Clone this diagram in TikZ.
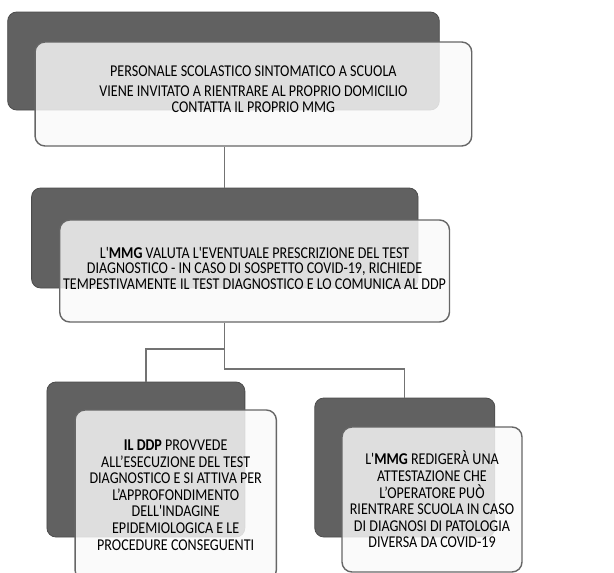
\documentclass[tikz,border=0pt]{standalone}
\usepackage{fontspec}
\setmainfont{Carlito}[Ligatures=TeXOff, FakeStretch=0.853]
\begin{document}
\begin{tikzpicture}[x=1pt,y=-1pt,
  darkbox/.style={draw=black!70, line width=0.8pt, fill=black!62, rounded corners=9pt, inner sep=0pt},
  frontbox/.style={draw=black!60, line width=1.4pt, fill=black!2, fill opacity=0.82, text opacity=1,
     rounded corners=10pt, inner sep=0pt, align=center, text=black},
  conn/.style={draw=black!55, line width=1.3pt},
  bigtext/.style={font=\fontsize{16.5pt}{15.5pt}\selectfont},
  smalltext/.style={font=\fontsize{16.5pt}{16.6pt}\selectfont}]
\useasboundingbox (0,0) rectangle (614,573);
\clip (0,0) rectangle (614,573);
\fill[white] (0,0) rectangle (614,573);
% top
\node[darkbox, minimum width=431.6pt, minimum height=98pt] (d1) at (223.5,61) {};
\node[frontbox, bigtext, minimum width=436.7pt, minimum height=104pt] (f1) at (253.4,94)
  {PERSONALE SCOLASTICO SINTOMATICO A SCUOLA\\[5pt]
   VIENE INVITATO A RIENTRARE AL PROPRIO DOMICILIO\\
   CONTATTA IL PROPRIO MMG\rule[-10pt]{0pt}{10pt}};
% middle
\node[darkbox, minimum width=386.4pt, minimum height=100pt] (d2) at (224.8,238) {};
\node[frontbox, bigtext, minimum width=389.8pt, minimum height=102pt] (f2) at (254.6,271)
  {L'\textbf{MMG} VALUTA L'EVENTUALE PRESCRIZIONE DEL TEST\\
   DIAGNOSTICO - IN CASO DI SOSPETTO COVID-19, RICHIEDE\\
   TEMPESTIVAMENTE IL TEST DIAGNOSTICO E LO COMUNICA AL DDP\rule[-6pt]{0pt}{6pt}};
% bottom left
\node[darkbox, minimum width=197.9pt, minimum height=155pt] (d3) at (145.9,459.5) {};
\node[frontbox, smalltext, minimum width=201.3pt, minimum height=170pt] (f3) at (175.7,495)
  {\textbf{IL DDP} PROVVEDE\\
   ALL’ESECUZIONE DEL TEST\\
   DIAGNOSTICO E SI ATTIVA PER\\
   L’APPROFONDIMENTO\\
   DELL'INDAGINE\\
   EPIDEMIOLOGICA E LE\\
   PROCEDURE CONSEGUENTI};
% bottom right
\node[darkbox, minimum width=180pt, minimum height=139pt] (d4) at (404.8,467.5) {};
\node[frontbox, smalltext, minimum width=180pt, minimum height=145pt] (f4) at (432,499.5)
  {L'\textbf{MMG} REDIGERÀ UNA\\
   ATTESTAZIONE CHE\\
   L’OPERATORE PUÒ\\
   RIENTRARE SCUOLA IN CASO\\
   DI DIAGNOSI DI PATOLOGIA\\
   DIVERSA DA COVID-19};
% connectors
\coordinate (jm) at (224.8,349);
\coordinate (jl) at (145.9,349);
\coordinate (jr) at (404.8,369);
\draw[conn] (f1.south -| d2.north) -- (d2.north);
\draw[conn] (f2.south -| jm) -- (jr -| jm) -- (jr) -- (d4.north);
\draw[conn] (jm) -- (jl) -- (d3.north);
\end{tikzpicture}
\end{document}
